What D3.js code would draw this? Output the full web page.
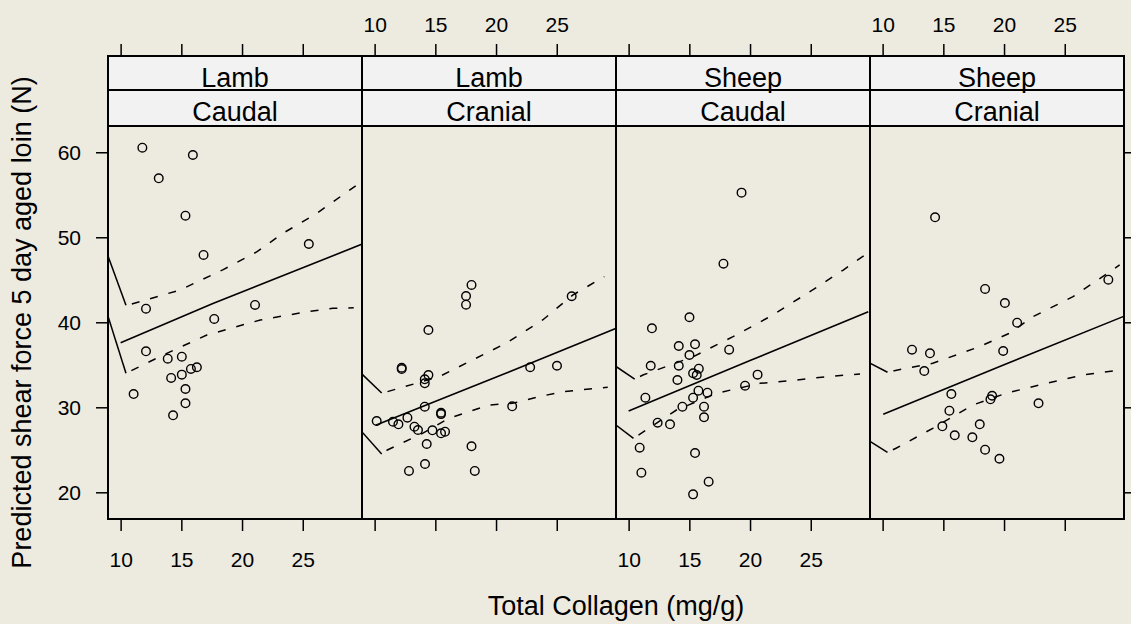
<!DOCTYPE html>
<html>
<head>
<meta charset="utf-8">
<script src="https://cdn.jsdelivr.net/npm/d3@7"></script>
<style>
  body { margin: 0; background: #edeae0; }
  text { font-family: "Liberation Sans", Arial, sans-serif; fill: #000; }
</style>
</head>
<body>
<script>
// panel labels (strip text)
var animals = ["Lamb", "Lamb", "Sheep", "Sheep"];
var regions = ["Caudal", "Cranial", "Caudal", "Cranial"];
var xTicks = [10, 15, 20, 25];
var yTicks = [20, 30, 40, 50, 60];

// observed points [collagen, shear force] per panel
var lambCaudal = [[11.79,60.54],[15.95,59.68],[13.14,56.94],[15.34,52.54],[16.83,47.92],[25.5,49.21],
  [12.09,41.6],[21.07,42.04],[17.71,40.39],[12.09,36.59],[13.88,35.72],[15.04,35.95],[14.16,33.45],
  [15.04,33.84],[15.79,34.51],[16.28,34.71],[15.34,32.15],[11.07,31.56],[15.34,30.47],[14.32,29.06]];
var lambCranial = [[17.98,44.39],[17.53,43.09],[17.53,42.07],[14.43,39.09],[26.23,43.06],[12.23,34.66],
  [12.23,34.5],[14.43,33.8],[14.13,33.29],[14.13,32.82],[22.81,34.71],[25.02,34.89],[14.13,30.07],
  [21.33,30.12],[15.47,29.36],[15.47,29.2],[10.17,28.39],[11.51,28.31],[11.96,28.0],[12.7,28.78],
  [13.28,27.72],[13.57,27.33],[14.76,27.29],[15.47,26.94],[15.8,27.13],[14.29,25.68],[17.98,25.41],
  [14.15,23.33],[12.83,22.51],[18.25,22.51]];
var sheepCaudal = [[19.3,55.25],[17.81,46.89],[15.01,40.59],[11.92,39.29],[14.13,37.21],[15.47,37.41],
  [15.01,36.15],[18.28,36.78],[11.82,34.89],[14.13,34.89],[15.78,34.54],[15.31,34.0],[15.61,33.8],
  [20.62,33.84],[14.02,33.21],[19.59,32.54],[11.38,31.13],[15.31,31.13],[15.75,31.95],[16.49,31.72],
  [14.43,30.07],[16.21,30.07],[16.21,28.82],[12.39,28.19],[13.41,28.0],[10.91,25.25],[15.47,24.62],
  [11.05,22.31],[16.59,21.25],[15.31,19.76]];
var sheepCranial = [[14.32,52.35],[18.44,43.92],[20.07,42.27],[21.08,39.95],[28.59,45.01],[12.42,36.78],
  [13.9,36.35],[19.93,36.62],[13.43,34.27],[15.66,31.56],[19.02,31.36],[18.88,30.94],[22.84,30.47],
  [15.5,29.6],[14.92,27.76],[18.0,28.0],[15.94,26.71],[17.39,26.47],[18.44,25.01],[19.62,23.95]];
var points = [lambCaudal, lambCranial, sheepCaudal, sheepCranial];

// fitted line and dashed bands per panel
var fitLines = [
  [[10.0,37.6],[17.6,42.2],[29.9,49.2]],
  [[10.08,27.9],[20.8,34.0],[29.94,39.33]],
  [[10.0,29.56],[20.0,35.5],[29.74,41.25]],
  [[10.05,29.18],[20.0,35.0],[29.93,40.74]]
];
var upperBands = [
  [[10.44,42.0],[10.91,42.15],[14.9,43.8],[18.45,46.2],[21.24,48.3],[23.4,50.5],[24.55,51.45],[26.2,52.86],[29.6,56.3]],
  [[10.58,31.68],[11.05,31.84],[15.31,33.6],[18.06,35.56],[20.81,37.53],[23.84,40.27],[26.31,43.2],[28.92,45.37]],
  [[10.5,33.3],[11.18,33.8],[15.31,35.95],[18.6,38.31],[21.63,40.66],[24.93,43.6],[27.68,46.15],[29.74,48.19]],
  [[10.4,34.12],[10.96,34.31],[14.13,35.18],[17.97,37.13],[20.45,38.71],[22.38,40.66],[25.68,43.01],[29.52,46.74]]
];
var lowerBands = [
  [[10.44,34.0],[13.8,36.35],[17.1,38.5],[21.5,40.27],[25.4,41.25],[27.5,41.65],[29.2,41.7]],
  [[10.58,24.5],[11.05,24.98],[13.94,26.94],[16.13,28.71],[19.43,30.27],[21.36,30.47],[23.56,31.25],[25.49,31.84],[29.2,32.35]],
  [[10.4,26.35],[13.94,29.68],[17.24,31.65],[20.81,32.82],[23.84,33.21],[26.31,33.6],[29.06,33.92]],
  [[10.4,24.71],[11.1,25.18],[14.13,27.53],[17.43,30.27],[20.17,31.65],[22.92,32.62],[26.5,33.8],[29.52,34.39]]
];
// solid lead-in segments entering from the left edge of each panel
var leadUpper = [47.8, 33.9, 34.8, 35.2];
var leadLower = [40.7, 27.1, 27.9, 26.0];

var svgWidth = 1131, svgHeight = 624;
var panelLeft = 108, panelW = 254;
var stripTop = 56, stripMid = 90, plotTop = 126, plotBottom = 519;

var svg = d3.select("body").append("svg")
  .attr("width", svgWidth)
  .attr("height", svgHeight);

svg.append("rect").attr("width", svgWidth).attr("height", svgHeight).attr("fill", "#edeae0");

var x = d3.scaleLinear().domain([8.96, 29.88]).range([0, panelW]);
var y = d3.scaleLinear().domain([16.86, 63.09]).range([plotBottom, plotTop]);

var line = d3.line().x(function(d){ return x(d[0]); }).y(function(d){ return y(d[1]); });

function styleAxis(g) {
  g.select(".domain").remove();
  g.selectAll(".tick line").attr("stroke", "#000").attr("stroke-width", 1.5);
  g.selectAll(".tick text").attr("font-size", 21).attr("font-family", "Liberation Sans, Arial, sans-serif");
}

for (var i = 0; i < 4; i++) {
  var g = svg.append("g").attr("transform", "translate(" + (panelLeft + i * panelW) + ",0)");

  g.append("clipPath").attr("id", "clip" + i)
    .append("rect").attr("x", 0).attr("y", plotTop)
    .attr("width", panelW).attr("height", plotBottom - plotTop);

  var inner = g.append("g").attr("clip-path", "url(#clip" + i + ")");

  // lead-in segments
  inner.append("path")
    .attr("d", line([[x.domain()[0], leadUpper[i]], upperBands[i][0]]))
    .attr("fill", "none").attr("stroke", "#000").attr("stroke-width", 1.5);
  inner.append("path")
    .attr("d", line([[x.domain()[0], leadLower[i]], lowerBands[i][0]]))
    .attr("fill", "none").attr("stroke", "#000").attr("stroke-width", 1.5);

  // bands
  [upperBands[i], lowerBands[i]].forEach(function(band){
    inner.append("path")
      .attr("d", line(band))
      .attr("fill", "none").attr("stroke", "#000").attr("stroke-width", 1.5)
      .attr("stroke-dasharray", "0,6,8,5");
  });

  // fit
  inner.append("path")
    .attr("d", line(fitLines[i]))
    .attr("fill", "none").attr("stroke", "#000").attr("stroke-width", 1.6);

  // points
  inner.selectAll("circle")
    .data(points[i])
    .enter()
    .append("circle")
    .attr("cx", function(d){ return x(d[0]); })
    .attr("cy", function(d){ return y(d[1]); })
    .attr("r", 4.3)
    .attr("fill", "none")
    .attr("stroke", "#000")
    .attr("stroke-width", 1.4);

  // bottom axis (labels on 1st and 3rd)
  var bottomAxis = d3.axisBottom(x).tickValues(xTicks).tickSize(12).tickPadding(21)
    .tickFormat(i % 2 === 0 ? d3.format("d") : function(){ return ""; });
  g.append("g").attr("transform", "translate(0," + plotBottom + ")").call(bottomAxis).call(styleAxis);

  // top axis (labels on 2nd and 4th)
  var topAxis = d3.axisTop(x).tickValues(xTicks).tickSize(12).tickPadding(12)
    .tickFormat(i % 2 === 1 ? d3.format("d") : function(){ return ""; });
  g.append("g").attr("transform", "translate(0," + stripTop + ")").call(topAxis).call(styleAxis);

  if (i === 0) {
    g.append("g").call(d3.axisLeft(y).tickValues(yTicks).tickSize(12).tickPadding(15)).call(styleAxis);
  }
  if (i === 3) {
    g.append("g").attr("transform", "translate(" + panelW + ",0)")
      .call(d3.axisRight(y).tickValues(yTicks).tickSize(12).tickFormat(function(){ return ""; }))
      .call(styleAxis);
  }

  // panel border
  g.append("rect").attr("x", 0).attr("y", plotTop)
    .attr("width", panelW).attr("height", plotBottom - plotTop)
    .attr("fill", "none").attr("stroke", "#000").attr("stroke-width", 2);

  // strips
  g.append("rect").attr("x", 0).attr("y", stripTop)
    .attr("width", panelW).attr("height", stripMid - stripTop)
    .attr("fill", "#f2f2f2").attr("stroke", "#000").attr("stroke-width", 2);
  g.append("rect").attr("x", 0).attr("y", stripMid)
    .attr("width", panelW).attr("height", plotTop - stripMid)
    .attr("fill", "#f2f2f2").attr("stroke", "#000").attr("stroke-width", 2);

  g.append("text").attr("x", panelW / 2).attr("y", 87)
    .attr("text-anchor", "middle").attr("font-size", 27).text(animals[i]);
  g.append("text").attr("x", panelW / 2).attr("y", 120.5)
    .attr("text-anchor", "middle").attr("font-size", 27).text(regions[i]);
}

// axis titles
svg.append("text")
  .attr("x", panelLeft + 2 * panelW).attr("y", 615)
  .attr("text-anchor", "middle").attr("font-size", 27)
  .text("Total Collagen (mg/g)");

svg.append("text")
  .attr("transform", "translate(31," + (plotTop + plotBottom) / 2 + ") rotate(-90)")
  .attr("text-anchor", "middle").attr("font-size", 27)
  .text("Predicted shear force 5 day aged loin (N)");
</script>
</body>
</html>
